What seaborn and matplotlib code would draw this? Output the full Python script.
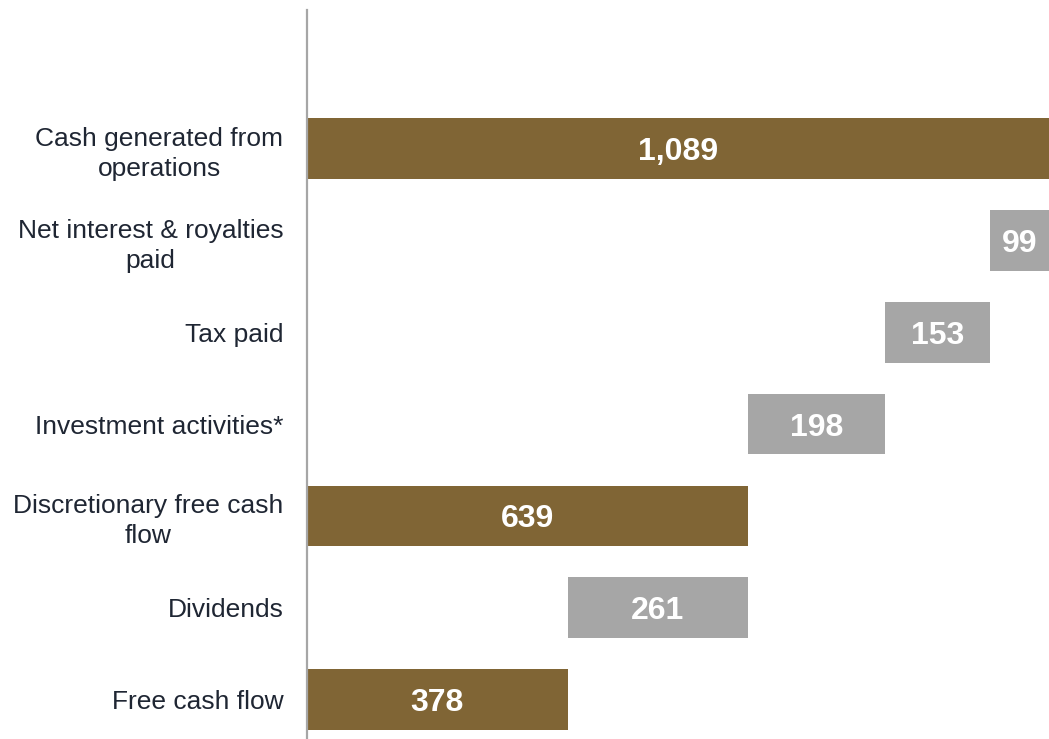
import matplotlib
matplotlib.use("Agg")
import matplotlib.pyplot as plt
import seaborn as sns
import pandas as pd

categories = [
    "Cash generated from\noperations",
    "Net interest & royalties\npaid",
    "Tax paid",
    "Investment activities*",
    "Discretionary free cash\nflow",
    "Dividends",
    "Free cash flow",
]
values = [1089, 99, 153, 198, 639, 261, 378]
kinds = ["total", "change", "change", "change", "total", "change", "total"]

TOTAL_COLOR = "#806535"
CHANGE_COLOR = "#A6A6A6"
TEXT_COLOR = "#1f2633"

# waterfall starts
starts = []
running = 0
for v, k in zip(values, kinds):
    if k == "total":
        starts.append(0)
        running = v
    else:
        running -= v
        starts.append(running)

df = pd.DataFrame({"category": categories, "value": values, "kind": kinds, "start": starts})

sns.set_theme(style="white")
plt.rcParams["font.family"] = ["Liberation Sans", "DejaVu Sans"]

W, H = 1049, 739
fig = plt.figure(figsize=(W / 100, H / 100), dpi=100)
ax = fig.add_axes([307 / W, 0, 1 - 307 / W, 1 - 10 / H])

tot = df[df.kind == "total"]
chg = df[df.kind == "change"]

sns.barplot(data=tot, x="value", y="category", order=categories, orient="y",
            color=TOTAL_COLOR, saturation=1, width=0.66, errorbar=None, ax=ax,
            linewidth=0)
sns.barplot(data=chg, x="value", y="category", order=categories, orient="y",
            color=CHANGE_COLOR, saturation=1, width=0.66, errorbar=None, ax=ax,
            left=chg["start"].to_numpy(), linewidth=0)

for cont, sub in zip(ax.containers, [tot, chg]):
    texts = ax.bar_label(cont, labels=[f"{v:,}" for v in sub["value"]], label_type="center",
                         color="white", fontsize=23, fontweight="bold")
    for t in texts:
        t.set_verticalalignment("center_baseline")

ax.set_xlim(0, 1075)
ax.set_ylim(6.43, -1.51)
ax.set_xlabel("")
ax.set_ylabel("")
ax.set_xticks([])
ax.set_yticks(range(len(categories)))
ax.set_yticklabels(categories, fontsize=19, color=TEXT_COLOR, linespacing=1.3)
for t in ax.get_yticklabels():
    t.set_multialignment("center")
ax.tick_params(axis="y", length=0, pad=17)
for s in ["top", "right", "bottom"]:
    ax.spines[s].set_visible(False)
ax.spines["left"].set_color("#A6A6A6")
ax.spines["left"].set_linewidth(1.6)

fig.savefig("out.png", dpi=100)
